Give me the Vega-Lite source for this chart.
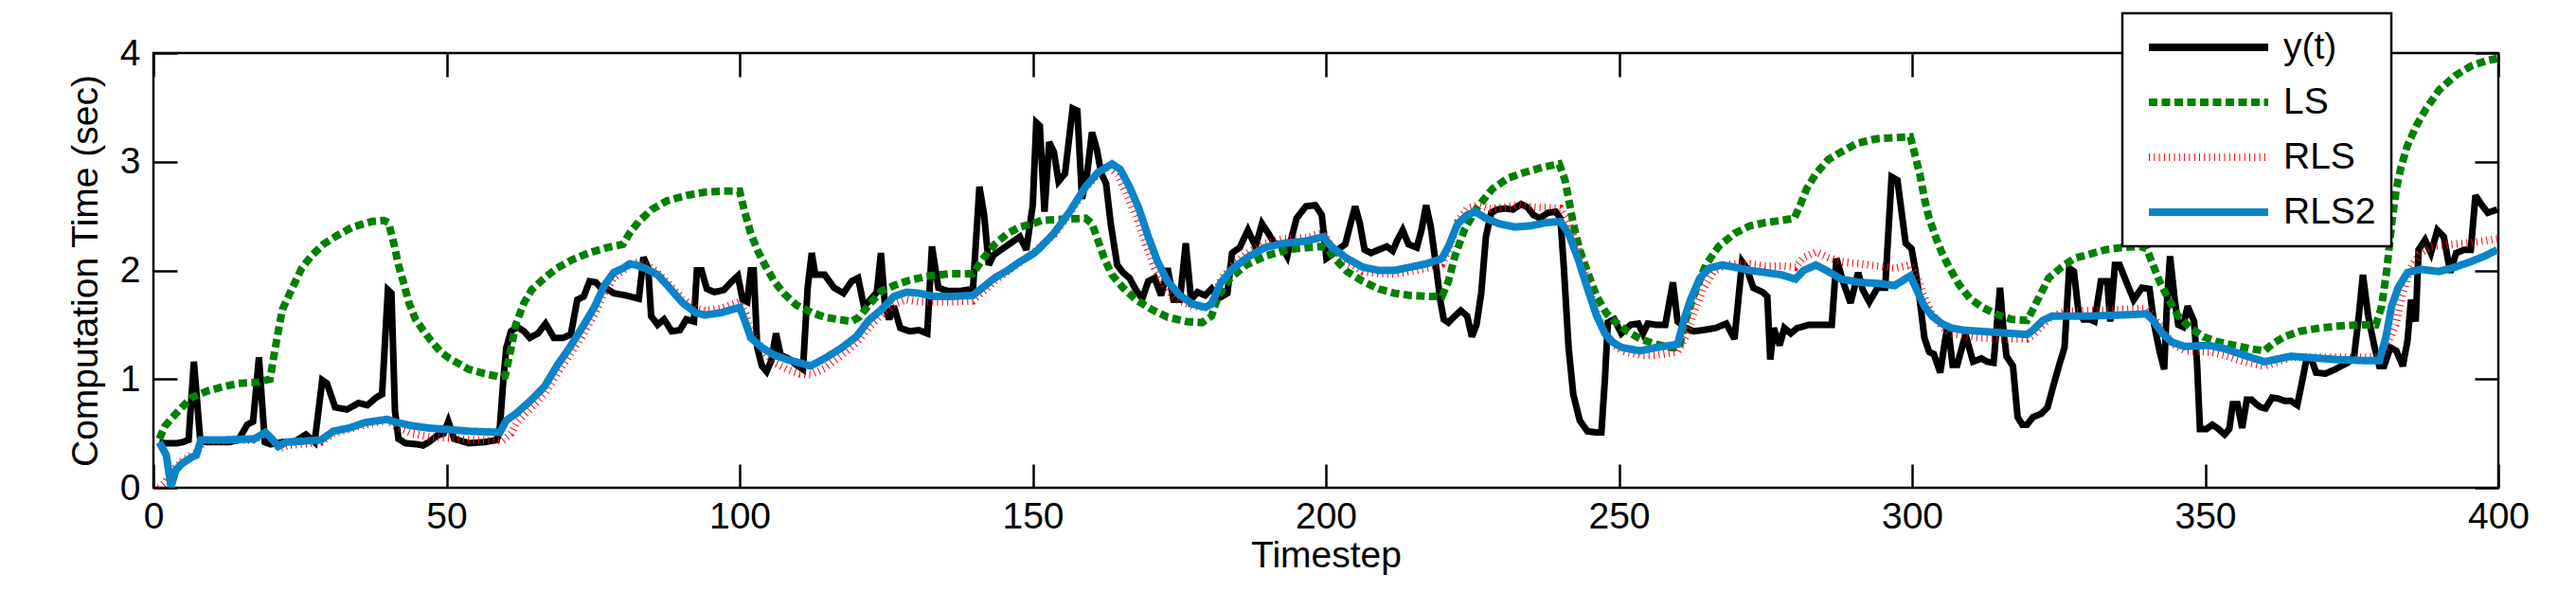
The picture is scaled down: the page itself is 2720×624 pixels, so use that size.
{
  "$schema": "https://vega.github.io/schema/vega-lite/v6.json",
  "width": 2476,
  "height": 459,
  "autosize": {"type": "none"},
  "padding": {"left": 162, "top": 56, "right": 82, "bottom": 109},
  "background": "white",
  "datasets": {
    "yt": [[1,0.42],[2,0.41],[3,0.41],[4,0.41],[5,0.42],[6,0.44],[6.9,1.16],[8,0.43],[9,0.42],[11,0.42],[13,0.42],[14.5,0.44],[16,0.58],[17,0.61],[18,1.2],[19,0.42],[20,0.4],[22,0.42],[24,0.42],[26,0.49],[27.5,0.42],[28.8,0.99],[29.6,0.96],[31,0.74],[33,0.72],[35,0.78],[36.5,0.76],[38,0.83],[39,0.86],[40,1.82],[40.6,1.79],[41.2,0.71],[41.8,0.45],[43,0.41],[45,0.4],[46,0.39],[47,0.42],[48.4,0.48],[49.5,0.5],[50.3,0.61],[51.3,0.45],[53.8,0.41],[56.5,0.42],[58.6,0.44],[59.1,0.56],[59.7,1.0],[60.2,1.29],[61,1.44],[62.1,1.48],[63.2,1.44],[64.2,1.38],[65.6,1.42],[66.9,1.51],[68.3,1.38],[69.9,1.38],[71.2,1.41],[72.3,1.73],[73.4,1.76],[74.4,1.9],[75.5,1.89],[76.3,1.84],[77.4,1.83],[78.5,1.79],[80.6,1.77],[82.8,1.74],[83.6,2.12],[84.4,2.02],[84.9,1.58],[86,1.5],[87.1,1.55],[88.4,1.44],[89.8,1.45],[90.9,1.55],[92.2,1.53],[92.7,2.0],[93.5,2.0],[94.4,1.83],[95.7,1.8],[97.3,1.82],[98.7,1.9],[99.7,1.95],[100.5,1.73],[101.3,1.71],[101.9,2.0],[102.4,2.0],[103,1.29],[103.8,1.12],[104.6,1.07],[105.4,1.17],[106.2,1.42],[107,1.22],[108.3,1.19],[109.7,1.13],[110.8,1.09],[111.6,1.84],[112.3,2.16],[112.9,1.96],[114.5,1.96],[116.1,1.84],[117.7,1.79],[119.1,1.9],[120.2,1.93],[121.2,1.67],[122.3,1.73],[123.4,1.8],[124.1,2.16],[124.8,1.67],[125.5,1.55],[126.3,1.67],[127.4,1.47],[129,1.44],[130.6,1.45],[132,1.42],[132.8,2.22],[133.9,1.84],[135.5,1.81],[137.6,1.81],[139.8,1.83],[140.9,2.77],[141.7,2.51],[142.5,2.05],[143.3,2.14],[144.6,2.19],[146.2,2.25],[147.8,2.31],[148.9,2.19],[150,2.6],[150.6,3.36],[151.2,3.33],[152,2.54],[152.8,3.18],[153.6,3.09],[154.4,2.82],[155.5,2.89],[156.8,3.49],[157.6,3.47],[158.4,2.66],[159.2,2.86],[160.1,3.27],[160.9,3.12],[161.7,2.89],[162.5,2.8],[163.3,2.43],[164.4,2.05],[165.4,1.98],[166.5,1.93],[167.6,1.82],[168.7,1.74],[169.7,1.9],[170.8,1.93],[171.9,1.77],[173,2.02],[174,1.73],[175.1,1.73],[176.1,2.25],[177,1.73],[178.1,1.8],[179.4,1.77],[180.5,1.83],[181.6,1.74],[183.2,1.79],[184,2.16],[185.3,2.21],[186.7,2.37],[188,2.22],[189.1,2.43],[190.2,2.34],[191.2,2.25],[192.3,2.24],[193.4,2.13],[194.2,2.31],[195,2.48],[196.6,2.59],[198.2,2.6],[199.3,2.51],[200.1,2.11],[200.9,2.14],[202,2.19],[203.3,2.24],[204.2,2.43],[205,2.59],[205.8,2.43],[206.6,2.19],[207.7,2.16],[209,2.19],[210.4,2.22],[211.4,2.18],[212.2,2.28],[213.1,2.37],[214.1,2.24],[215.5,2.21],[216.3,2.37],[217.1,2.6],[217.9,2.4],[218.7,2.08],[219.5,1.73],[220.1,1.55],[220.9,1.52],[222,1.58],[223,1.63],[224.1,1.58],[224.9,1.39],[225.7,1.5],[226.5,1.79],[227.3,2.31],[228.2,2.53],[229.2,2.56],[230.6,2.57],[231.9,2.56],[233.3,2.61],[234.4,2.58],[235.4,2.51],[236.5,2.48],[237.9,2.53],[239.2,2.54],[240,2.48],[240.6,2.02],[241.4,1.29],[242.2,0.86],[243.3,0.62],[244.6,0.52],[246,0.51],[247,0.51],[247.6,1.0],[248.1,1.52],[249.2,1.55],[250.4,1.42],[252,1.5],[253.3,1.51],[254.1,1.42],[254.9,1.51],[256.3,1.5],[257.9,1.5],[259.2,1.89],[260,1.53],[261.1,1.48],[262.7,1.44],[264.3,1.45],[266.5,1.47],[268.3,1.51],[269.7,1.37],[271,2.08],[271.8,2.02],[272.9,1.84],[274.5,1.8],[275.3,1.76],[275.8,1.18],[276.4,1.47],[277.4,1.31],[278.2,1.47],[279.3,1.42],[280.4,1.47],[282.5,1.5],[284.7,1.5],[286.3,1.5],[287.1,2.11],[288.2,1.9],[289.5,1.7],[290.8,1.98],[291.6,1.82],[292.7,1.71],[294.1,1.84],[295.4,1.84],[296.5,2.86],[297.5,2.83],[298.9,2.25],[299.9,2.2],[300.5,2.02],[301.3,1.73],[302.1,1.38],[302.9,1.25],[303.7,1.23],[304.8,1.06],[305.6,1.35],[306.1,1.5],[306.9,1.13],[307.7,1.13],[309.1,1.41],[310.4,1.16],[311.8,1.19],[312.8,1.16],[313.9,1.15],[315,1.84],[315.5,1.5],[316.1,1.21],[317.2,1.12],[318,0.65],[318.8,0.58],[319.6,0.58],[320.6,0.65],[322,0.68],[323.1,0.74],[324.1,0.94],[325.2,1.15],[326,1.29],[326.8,2.02],[327.6,1.99],[328.4,1.61],[329.2,1.55],[330.3,1.55],[331.1,1.53],[332.2,1.9],[333.3,1.9],[333.8,1.53],[334.6,2.05],[335.4,2.05],[336.5,1.9],[337.8,1.73],[339.2,1.84],[340.5,1.83],[341.3,1.5],[342.2,1.26],[343,1.09],[343.5,1.73],[344,2.13],[344.8,1.73],[345.4,1.5],[346.2,1.48],[347,1.67],[348.1,1.53],[348.6,1.15],[349.1,0.54],[350.2,0.54],[351.2,0.58],[352.3,0.54],[353.3,0.49],[354.1,0.54],[354.7,0.77],[355.5,0.77],[356.3,0.55],[357.1,0.81],[357.9,0.81],[358.7,0.77],[359.5,0.74],[360.3,0.73],[361.4,0.83],[362.5,0.82],[363.5,0.8],[364.6,0.8],[365.7,0.76],[366.5,0.97],[367.3,1.19],[368.1,1.19],[368.9,1.06],[370.5,1.05],[372.2,1.09],[373.2,1.12],[374.3,1.15],[375.4,1.21],[376.2,1.58],[376.9,1.96],[377.8,1.58],[378.9,1.29],[379.7,1.12],[380.5,1.12],[381.6,1.29],[382.6,1.26],[383.7,1.12],[384.5,1.35],[385.1,1.73],[385.9,1.53],[386.4,2.19],[387.5,2.28],[388.5,2.16],[389.6,2.37],[390.7,2.31],[391.8,1.98],[392.8,2.16],[394.2,2.19],[395.3,2.19],[396.1,2.69],[397.2,2.6],[398.2,2.53],[399.8,2.56]],
    "ls": [[1,0.45],[2,0.57],[3.8,0.68],[6.5,0.83],[9.2,0.89],[11.9,0.93],[14.5,0.96],[17.8,0.97],[19.9,1.0],[20.5,1.2],[21.3,1.44],[22,1.64],[23.7,1.84],[25.3,2.02],[26.9,2.13],[29,2.24],[31.3,2.32],[34,2.4],[37.2,2.45],[39.3,2.46],[40.1,2.44],[41,2.25],[41.8,2.05],[42.6,1.9],[43.6,1.7],[44.7,1.55],[46,1.45],[47.4,1.35],[49,1.25],[50.5,1.19],[53.8,1.09],[56.5,1.05],[59.1,1.02],[60,1.03],[60.8,1.23],[61.8,1.5],[63.2,1.7],[64.5,1.82],[66.7,1.93],[68.8,2.02],[71.5,2.1],[74.2,2.16],[77.4,2.21],[80.1,2.24],[81.2,2.34],[82.8,2.45],[85,2.56],[87.6,2.64],[90.9,2.69],[94.1,2.72],[97.3,2.73],[100,2.73],[100.8,2.55],[101.9,2.34],[103,2.19],[104.3,2.05],[105.9,1.9],[107.5,1.79],[109.7,1.68],[112.4,1.61],[114.5,1.57],[116.7,1.55],[119.1,1.53],[120.4,1.57],[122,1.68],[124.2,1.81],[126.3,1.86],[129,1.91],[132.3,1.95],[136,1.97],[139.8,1.97],[141.4,2.1],[143.5,2.24],[145.7,2.34],[147.8,2.4],[150,2.43],[151.5,2.46],[154.7,2.47],[159,2.48],[160.1,2.43],[161.1,2.28],[162.2,2.11],[163.5,1.96],[165.4,1.84],[167.6,1.73],[170.3,1.64],[173,1.57],[176.2,1.53],[178.9,1.52],[180.5,1.58],[181.6,1.76],[183.7,1.93],[186.4,2.05],[189.6,2.13],[193.4,2.19],[196.6,2.21],[199.3,2.22],[200.4,2.19],[201.5,2.11],[203.6,1.99],[206.3,1.9],[209,1.83],[211.7,1.79],[214.4,1.77],[217.6,1.76],[219.8,1.76],[220.9,1.9],[222,2.13],[223.6,2.37],[225.7,2.57],[228.4,2.75],[231.1,2.85],[233.8,2.9],[237.1,2.95],[239.8,2.98],[240.8,2.83],[241.4,2.66],[242.2,2.43],[243.3,2.19],[244.6,1.99],[246.2,1.76],[247.8,1.61],[249.5,1.52],[251.4,1.44],[253.6,1.37],[256.3,1.32],[258.9,1.29],[260.3,1.29],[261.1,1.5],[262.7,1.76],[264.8,2.05],[267,2.22],[269.7,2.34],[272.3,2.41],[275,2.44],[277.7,2.46],[279.9,2.48],[280.9,2.6],[282,2.75],[283.6,2.89],[285.7,3.02],[287.9,3.09],[290.6,3.17],[293.8,3.21],[296.5,3.22],[299.7,3.23],[300.5,3.06],[301.3,2.89],[302.1,2.66],[302.9,2.48],[304,2.31],[305.1,2.16],[306.4,2.02],[308,1.87],[309.9,1.74],[312,1.66],[314.2,1.6],[316.9,1.55],[319.6,1.54],[320.6,1.64],[322,1.79],[323.3,1.93],[325.5,2.03],[327.6,2.11],[330.3,2.15],[333,2.19],[335.7,2.21],[338.9,2.22],[340,2.2],[341.1,2.05],[342.2,1.9],[343.8,1.73],[345.4,1.58],[347.5,1.47],[349.7,1.39],[352.3,1.34],[355,1.31],[357.6,1.28],[360.1,1.26],[361.4,1.32],[363.5,1.39],[366.2,1.44],[369.5,1.47],[373.2,1.49],[377,1.5],[379.1,1.5],[380.1,1.67],[381,2.02],[381.8,2.43],[382.6,2.75],[383.4,2.95],[384.5,3.15],[386.1,3.34],[387.7,3.49],[389.9,3.66],[392.6,3.79],[395.3,3.88],[398,3.93],[399.8,3.95]],
    "rls": [[1,0.0],[2,0.05],[3,0.15],[4,0.2],[5,0.25],[6.5,0.3],[7.5,0.33],[8.5,0.43],[12,0.43],[17,0.44],[19,0.49],[20.5,0.42],[21.5,0.36],[23,0.39],[28.6,0.42],[30.7,0.5],[33.4,0.54],[36.1,0.58],[39.9,0.62],[41.5,0.56],[44.2,0.5],[47,0.47],[52,0.45],[55,0.44],[59.5,0.43],[61,0.5],[62,0.6],[64.5,0.74],[66.7,0.86],[68.8,1.04],[71,1.22],[73.1,1.39],[75.3,1.6],[76.9,1.79],[78.5,1.93],[80.1,2.0],[81.5,2.06],[83,2.08],[84.5,2.04],[86,1.98],[88.2,1.86],[90.3,1.74],[92.5,1.65],[94.1,1.63],[96.8,1.65],[100,1.71],[101,1.6],[102,1.42],[103.8,1.28],[105.9,1.15],[108.1,1.09],[110.2,1.05],[112.1,1.04],[114.5,1.1],[117.2,1.21],[119.9,1.33],[122,1.47],[124.2,1.59],[126.3,1.69],[128.5,1.73],[130.6,1.71],[133.3,1.71],[136,1.71],[139.8,1.72],[141.4,1.8],[143.5,1.9],[145.7,1.99],[147.8,2.07],[150,2.16],[153.6,2.33],[156.3,2.52],[159,2.76],[161.1,2.88],[163,2.96],[164.5,2.88],[166,2.7],[167.6,2.5],[169.2,2.25],[170.8,2.02],[172.5,1.85],[174.6,1.73],[177.3,1.67],[179.4,1.66],[180.5,1.7],[182.1,1.92],[184.2,2.05],[186.9,2.17],[189.6,2.25],[192.8,2.29],[196.6,2.3],[199.6,2.35],[200.9,2.22],[203.6,2.08],[206.3,1.99],[209,1.97],[211.7,1.97],[214.4,1.99],[217.1,2.02],[219.8,2.06],[221,2.2],[222.5,2.45],[224.1,2.57],[226,2.6],[228,2.57],[230,2.58],[233,2.6],[236,2.58],[240,2.57],[241.4,2.45],[243,2.2],[244.6,1.9],[246.2,1.6],[247.6,1.42],[249,1.32],[250.5,1.26],[253.6,1.22],[256.3,1.22],[260,1.25],[261.5,1.4],[262.7,1.6],[264.3,1.82],[266,1.98],[268,2.05],[270,2.06],[272.3,2.06],[275,2.04],[278,2.04],[280.1,2.03],[281.5,2.12],[283.6,2.17],[285.7,2.12],[288,2.08],[291.1,2.06],[294.3,2.04],[297,2.02],[299.7,2.05],[300.8,1.95],[302.1,1.75],[303.4,1.6],[305.1,1.48],[306.7,1.42],[308.8,1.4],[311.5,1.38],[316.9,1.37],[319.6,1.37],[320.6,1.4],[322.3,1.5],[323.9,1.58],[326,1.62],[330.3,1.63],[335.7,1.64],[340,1.65],[341.1,1.58],[342.7,1.45],[344.3,1.33],[346.5,1.26],[350.6,1.25],[353.3,1.22],[356.6,1.16],[360.1,1.12],[361.9,1.15],[364.6,1.2],[367.3,1.2],[372.2,1.2],[377.5,1.2],[379.7,1.2],[381,1.3],[382.5,1.5],[383.5,1.75],[385,2.02],[386.5,2.15],[388.5,2.22],[392,2.24],[396,2.26],[399.8,2.29]],
    "rls2": [[1,0.42],[2.2,0.3],[3,0.01],[3.8,0.16],[4.8,0.22],[6.5,0.28],[7.3,0.3],[8.1,0.44],[11.9,0.44],[17.2,0.45],[19.1,0.51],[20.2,0.45],[21.3,0.38],[22.6,0.42],[28.6,0.44],[30.7,0.52],[33.4,0.55],[36.1,0.6],[39.9,0.63],[41.5,0.6],[44.2,0.57],[46.9,0.55],[51.7,0.53],[53.8,0.52],[59.1,0.51],[60.2,0.62],[61.8,0.68],[64.5,0.81],[66.7,0.93],[68.8,1.12],[71,1.29],[73.1,1.47],[75.3,1.67],[76.9,1.86],[78.5,1.98],[80.1,2.02],[81.2,2.06],[82.3,2.05],[83.9,2.02],[86,1.96],[88.2,1.83],[90.3,1.7],[92.5,1.61],[94.1,1.59],[96.8,1.61],[100,1.66],[100.8,1.55],[101.9,1.38],[103.8,1.29],[105.9,1.22],[108.1,1.18],[110.2,1.15],[112.1,1.12],[114.5,1.19],[117.2,1.28],[119.9,1.39],[122,1.54],[124.2,1.64],[126.3,1.76],[128.5,1.8],[130.6,1.79],[133.3,1.76],[136,1.76],[139.8,1.77],[141.4,1.84],[143.5,1.93],[145.7,2.0],[147.8,2.08],[150,2.15],[150.9,2.19],[153.6,2.34],[156.3,2.54],[159,2.77],[161.1,2.9],[163.5,2.98],[164.9,2.93],[166.5,2.77],[168.1,2.57],[169.7,2.31],[171.3,2.08],[173,1.9],[175.1,1.77],[177.3,1.69],[179.4,1.66],[180.5,1.69],[182.1,1.89],[184.2,2.02],[186.9,2.13],[189.6,2.21],[192.8,2.25],[196.6,2.27],[199.6,2.31],[200.9,2.22],[203.6,2.11],[206.3,2.03],[209,2.0],[211.7,2.0],[214.4,2.03],[217.1,2.06],[219.8,2.11],[220.9,2.22],[222.5,2.43],[224.1,2.51],[225.5,2.54],[227.3,2.48],[229.5,2.43],[232.2,2.4],[234.9,2.41],[237.6,2.44],[240,2.45],[241.4,2.34],[243,2.11],[244.6,1.84],[246.2,1.58],[247.6,1.42],[248.9,1.34],[250.5,1.29],[253.6,1.26],[256.3,1.29],[260,1.32],[261.1,1.55],[262.2,1.73],[263.8,1.93],[265.4,2.02],[267.5,2.05],[269.7,2.03],[272.3,2.0],[275,1.98],[277.7,1.96],[280.1,1.92],[281.5,2.0],[283.6,2.05],[285.7,1.99],[287.9,1.92],[291.1,1.89],[294.3,1.88],[297,1.86],[299.7,1.95],[300.8,1.82],[302.1,1.67],[303.4,1.58],[305.1,1.51],[306.7,1.47],[308.8,1.45],[311.5,1.44],[316.9,1.42],[319.6,1.41],[320.6,1.45],[322.3,1.54],[323.9,1.58],[330.3,1.58],[335.7,1.59],[340,1.6],[341.1,1.54],[342.7,1.42],[344.3,1.34],[346.5,1.3],[350.6,1.31],[353.3,1.28],[356.6,1.22],[360.1,1.16],[361.9,1.18],[364.6,1.21],[367.3,1.2],[372.2,1.18],[377.5,1.17],[379.7,1.17],[380.8,1.38],[381.8,1.67],[382.9,1.84],[384.5,1.98],[386.7,2.01],[389.9,1.99],[392.6,2.03],[395.3,2.08],[398,2.14],[399.8,2.19]]
  },
  "data": {"values": [{}]},
  "layer": [
    {
      "data": {"name": "yt"},
      "transform": [{"calculate": "datum[0]", "as": "t"}, {"calculate": "datum[1]", "as": "v"}, {"calculate": "'y(t)'", "as": "s"}],
      "mark": {"type": "line", "strokeWidth": 7, "clip": true, "strokeJoin": "miter", "strokeMiterLimit": 3},
      "encoding": {
        "x": {"field": "t", "type": "quantitative", "scale": {"domain": [0, 400], "nice": false, "zero": false},
              "axis": {"orient": "bottom", "values": [0,50,100,150,200,250,300,350,400], "title": "Timestep", "labelPadding": 36, "titlePadding": 2, "labelFlush": false}},
        "y": {"field": "v", "type": "quantitative", "scale": {"domain": [0, 4], "nice": false},
              "axis": {"orient": "left", "values": [0,1,2,3,4], "title": "Computation Time (sec)", "labelPadding": 39, "titlePadding": 16}},
        "stroke": {"field": "s", "type": "nominal", "scale": {"domain": ["y(t)","LS","RLS","RLS2"], "range": ["#000000","#008000","#ff0000","#0a84c8"]}, "legend": {"title": null, "orient": "none", "legendX": 2079, "legendY": -42}},
        "strokeDash": {"field": "s", "type": "nominal", "scale": {"domain": ["y(t)","LS","RLS","RLS2"], "range": [[1,0],[9,4.5],[1,4.3],[1,0]]}, "legend": {"title": null, "orient": "none", "legendX": 2079, "legendY": -42}}
      }
    },
    {
      "data": {"name": "ls"},
      "transform": [{"calculate": "datum[0]", "as": "t"}, {"calculate": "datum[1]", "as": "v"}, {"calculate": "'LS'", "as": "s"}],
      "mark": {"type": "line", "strokeWidth": 8, "clip": true, "strokeCap": "butt"},
      "encoding": {
        "x": {"field": "t", "type": "quantitative", "axis": {"orient": "top", "values": [0,50,100,150,200,250,300,350,400], "labels": false, "title": null}},
        "y": {"field": "v", "type": "quantitative", "axis": {"orient": "right", "values": [0,1,2,3,4], "labels": false, "title": null}},
        "stroke": {"field": "s", "type": "nominal"},
        "strokeDash": {"field": "s", "type": "nominal"}
      }
    },
    {
      "data": {"name": "rls"},
      "transform": [{"calculate": "datum[0]", "as": "t"}, {"calculate": "datum[1]", "as": "v"}, {"calculate": "'RLS'", "as": "s"}],
      "mark": {"type": "line", "strokeWidth": 8, "clip": true, "strokeCap": "butt"},
      "encoding": {
        "x": {"field": "t", "type": "quantitative", "axis": null},
        "y": {"field": "v", "type": "quantitative", "axis": null},
        "stroke": {"field": "s", "type": "nominal"},
        "strokeDash": {"field": "s", "type": "nominal"}
      }
    },
    {
      "data": {"name": "rls2"},
      "transform": [{"calculate": "datum[0]", "as": "t"}, {"calculate": "datum[1]", "as": "v"}, {"calculate": "'RLS2'", "as": "s"}],
      "mark": {"type": "line", "strokeWidth": 8, "clip": true},
      "encoding": {
        "x": {"field": "t", "type": "quantitative", "axis": null},
        "y": {"field": "v", "type": "quantitative", "axis": null},
        "stroke": {"field": "s", "type": "nominal"},
        "strokeDash": {"field": "s", "type": "nominal"}
      }
    }
  ],
  "resolve": {"axis": {"x": "independent", "y": "independent"}},
  "config": {
    "font": "Liberation Sans",
    "view": {"stroke": "black", "strokeWidth": 2.5},
    "axis": {"grid": false, "domain": false, "ticks": true, "tickSize": -25, "tickWidth": 2.5, "tickColor": "black",
             "labelFont": "Liberation Sans", "labelFontSize": 39, "labelColor": "black",
             "titleFont": "Liberation Sans", "titleFontSize": 39, "titleFontWeight": "normal", "titleColor": "black"},
    "legend": {"fillColor": "white", "strokeColor": "black", "strokeWidth": 2.5, "padding": 16, "symbolType": "stroke",
               "symbolSize": 15876, "symbolStrokeWidth": 8, "symbolOffset": 8, "labelOffset": 12,
               "labelFont": "Liberation Sans", "labelFontSize": 39, "labelColor": "black", "rowPadding": 18, "clipHeight": 40}
  }
}
